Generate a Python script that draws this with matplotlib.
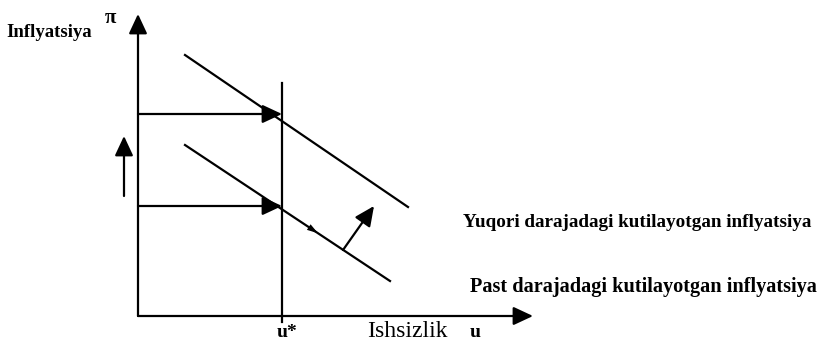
import matplotlib
matplotlib.use("Agg")
import matplotlib.pyplot as plt

# unemployment (u) and inflation (pi) in arbitrary diagram units
u_star = 14.4
u_axis_end = 39.5
pi_axis_end = 30.2

# short-run Phillips curves: high and low expected inflation
high_u = [4.7, 27.0]
high_pi = [26.1, 10.9]
low_u = [4.7, 25.2]
low_pi = [17.1, 3.5]

# inflation levels read at u*
pi_high = 20.2
pi_low = 11.0

# shift arrow between the curves
shift_from = (20.5, 6.6)
shift_to = (23.6, 11.0)

# rising inflation arrow next to the vertical axis
rise_u = -1.4
rise_pi = [12.0, 18.0]

high_label = "Yuqori darajadagi kutilayotgan inflyatsiya"
low_label = "Past darajadagi kutilayotgan inflyatsiya"

fig = plt.figure(figsize=(8.23, 3.42), dpi=100)
ax = fig.add_axes([0, 0, 1, 1])
ax.set_xlim(-13.8, 68.5)
ax.set_ylim(-2.6, 31.6)
ax.axis("off")

serif = "Liberation Serif"
lw = 1.6


def arrow(tail, tip, hl=0.6, hw=0.28, scale=20):
    ax.annotate("", xy=tip, xytext=tail,
                arrowprops=dict(arrowstyle="-|>,head_length=%s,head_width=%s" % (hl, hw),
                                lw=lw, color="black", shrinkA=0, shrinkB=0,
                                mutation_scale=scale))


# axes
arrow((0, 0), (u_axis_end, 0))
arrow((0, 0), (0, pi_axis_end))

# natural rate of unemployment
ax.plot([u_star, u_star], [-0.6, 23.3], color="black", lw=lw)

# Phillips curves
ax.plot(high_u, high_pi, color="black", lw=lw)
ax.plot(low_u, low_pi, color="black", lw=lw)

# expected inflation levels
arrow((0, pi_high), (u_star, pi_high))
arrow((0, pi_low), (u_star, pi_low))

arrow((rise_u, rise_pi[0]), (rise_u, rise_pi[1]))
arrow(shift_from, shift_to)

# small arrowhead along the lower curve
slope = (low_pi[1] - low_pi[0]) / (low_u[1] - low_u[0])
ax.annotate("", xy=(18.0, low_pi[0] + slope * (18.0 - low_u[0])),
            xytext=(16.5, low_pi[0] + slope * (16.5 - low_u[0])),
            arrowprops=dict(arrowstyle="-|>,head_length=0.5,head_width=0.15",
                            lw=0, color="black", shrinkA=0, shrinkB=0,
                            mutation_scale=16))

ax.text(-2.8, 29.8, "π", fontsize=15, family=serif, fontweight="bold",
        ha="center", va="center")
ax.text(-13.2, 27.9, "Inflyatsiya", fontsize=13.5, family=serif, fontweight="bold",
        ha="left", va="baseline")
ax.text(32.5, 8.9, high_label, fontsize=13.8, family=serif, fontweight="bold",
        ha="left", va="baseline")
ax.text(33.2, 2.4, low_label, fontsize=14.6, family=serif, fontweight="bold",
        ha="left", va="baseline")
ax.text(13.9, -2.1, "u*", fontsize=14, family=serif, fontweight="bold",
        ha="left", va="baseline")
ax.text(22.9, -2.1, "Ishsizlik", fontsize=17, family=serif,
        ha="left", va="baseline")
ax.text(33.2, -2.1, "u", fontsize=14, family=serif, fontweight="bold",
        ha="left", va="baseline")

fig.savefig("out.png", dpi=100)
